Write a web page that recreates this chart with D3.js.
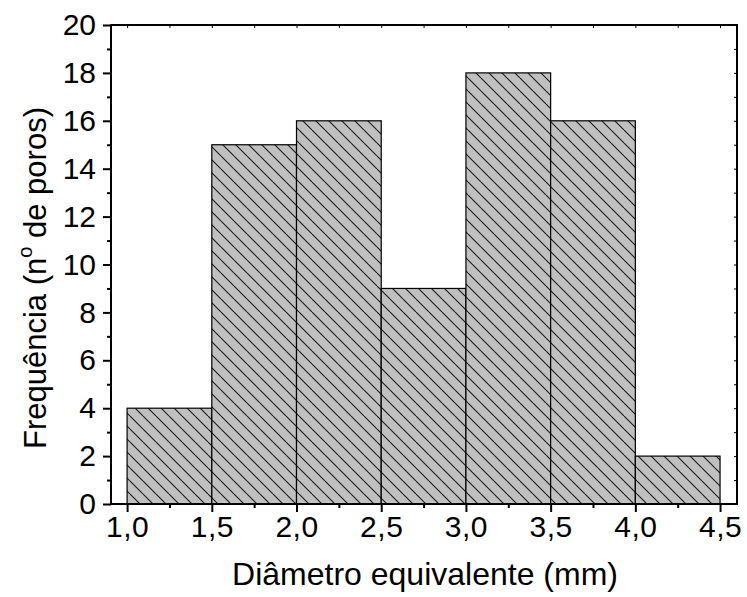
<!DOCTYPE html>
<html>
<head>
<meta charset="utf-8">
<script src="https://cdn.jsdelivr.net/npm/d3@7"></script>
<style>
  html, body { margin: 0; padding: 0; background: #fff; }
  svg { display: block; }
  text { font-family: "Liberation Sans", Arial, sans-serif; fill: #000; }
</style>
</head>
<body>
<div id="chart"></div>
<script>
const binStarts = [1.0, 1.5, 2.0, 2.5, 3.0, 3.5, 4.0];
const binWidth = 0.5;
const counts = [4, 15, 16, 9, 18, 16, 2];
const xTicks = [1.0, 1.5, 2.0, 2.5, 3.0, 3.5, 4.0, 4.5];
const yTicks = [0, 2, 4, 6, 8, 10, 12, 14, 16, 18, 20];
const xTitle = "Diâmetro equivalente (mm)";
const yTitle = "Frequência (n";
const yTitleSup = "o";
const yTitleEnd = " de poros)";

const W = 747, H = 597;
const mLeft = 111, mRight = 737, mTop = 25, mBottom = 504;

const svg = d3.select("#chart").append("svg").attr("width", W).attr("height", H);

const x = d3.scaleLinear().domain([0.905, 4.6]).range([mLeft, mRight]);
const y = d3.scaleLinear().domain([0, 20]).range([mBottom, mTop]);

const defs = svg.append("defs");
const sp = 13;
const pat = defs.append("pattern").attr("id", "hatch")
  .attr("patternUnits", "userSpaceOnUse").attr("width", sp).attr("height", sp);
pat.append("rect").attr("width", sp).attr("height", sp).attr("fill", "#c0c0c0");
pat.append("path").attr("d", `M0,0 L${sp},${sp} M${-sp},0 L0,${sp} M${sp},0 L${2*sp},${sp}`)
  .attr("stroke", "#1a1a1a").attr("stroke-width", 1.1);

// bars
svg.append("g").selectAll("rect").data(binStarts).join("rect")
  .attr("x", d => x(d))
  .attr("y", (d, i) => y(counts[i]))
  .attr("width", d => x(d + binWidth) - x(d))
  .attr("height", (d, i) => y(0) - y(counts[i]))
  .attr("fill", "url(#hatch)")
  .attr("stroke", "#000").attr("stroke-width", 1.2);

// axes
const fmt = d => d3.format(".1f")(d).replace(".", ",");
const xMinor = d3.range(1.25, 4.5, 0.5);
const yMinor = d3.range(1, 20, 2);

const xAxis = svg.append("g").attr("transform", `translate(0,${mBottom})`)
  .call(d3.axisBottom(x).tickValues(xTicks).tickFormat(fmt).tickSize(8).tickPadding(4).tickSizeOuter(0));
xAxis.select(".domain").remove();
xAxis.selectAll("line").attr("stroke-width", 2);
xAxis.selectAll("text").style("font-size", "30px").style("letter-spacing", "0.5px").attr("font-family", "Liberation Sans, Arial, sans-serif");
svg.append("g").attr("transform", `translate(0,${mBottom})`)
  .call(d3.axisBottom(x).tickValues(xMinor).tickFormat("").tickSize(4).tickSizeOuter(0))
  .call(g => g.select(".domain").remove())
  .selectAll("line").attr("stroke-width", 2);

const yAxis = svg.append("g").attr("transform", `translate(${mLeft},0)`)
  .call(d3.axisLeft(y).tickValues(yTicks).tickFormat(d3.format("d")).tickSize(8).tickPadding(7).tickSizeOuter(0));
yAxis.select(".domain").remove();
yAxis.selectAll("line").attr("stroke-width", 2);
yAxis.selectAll("text").style("font-size", "30px").attr("font-family", "Liberation Sans, Arial, sans-serif");
svg.append("g").attr("transform", `translate(${mLeft},0)`)
  .call(d3.axisLeft(y).tickValues(yMinor).tickFormat("").tickSize(4).tickSizeOuter(0))
  .call(g => g.select(".domain").remove())
  .selectAll("line").attr("stroke-width", 2);

// mirrored top/right small inward ticks
svg.append("g").attr("transform", `translate(0,${mTop})`)
  .call(d3.axisTop(x).tickValues(xTicks.concat(xMinor)).tickFormat("").tickSize(-3).tickSizeOuter(0))
  .call(g => g.select(".domain").remove())
  .selectAll("line").attr("stroke-width", 1);
svg.append("g").attr("transform", `translate(${mRight},0)`)
  .call(d3.axisRight(y).tickValues(yTicks.concat(yMinor)).tickFormat("").tickSize(-3).tickSizeOuter(0))
  .call(g => g.select(".domain").remove())
  .selectAll("line").attr("stroke-width", 1);

// frame
svg.append("rect").attr("x", mLeft).attr("y", mTop)
  .attr("width", mRight - mLeft).attr("height", mBottom - mTop)
  .attr("fill", "none").attr("stroke", "#000").attr("stroke-width", 2);

// titles
svg.append("text").attr("x", 425).attr("y", 585)
  .attr("text-anchor", "middle").style("font-size", "32px").text(xTitle);

const yt = svg.append("text").attr("transform", `translate(46,278) rotate(-90)`)
  .attr("text-anchor", "middle").style("font-size", "31px");
yt.append("tspan").text(yTitle);
yt.append("tspan").attr("dy", -14).style("font-size", "20px").text(yTitleSup);
yt.append("tspan").attr("dy", 14).text(yTitleEnd);
</script>
</body>
</html>
